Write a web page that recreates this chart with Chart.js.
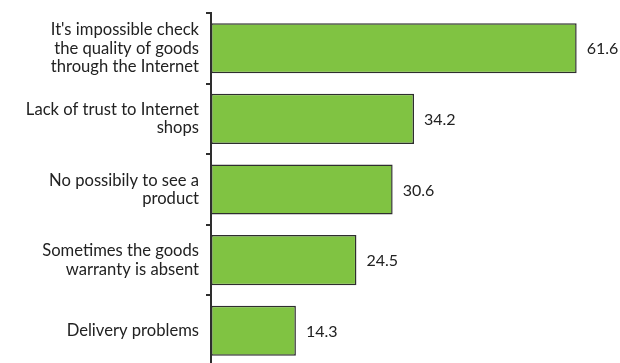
<!DOCTYPE html>
<html>
<head>
<meta charset="utf-8">
<script src="https://cdn.jsdelivr.net/npm/chart.js@4"></script>
<style>
    html, body { margin: 0; padding: 0; background: #fff; overflow: hidden; }
    canvas { display: block; }
</style>
</head>
<body>
<canvas id="reasonsChart" width="620" height="366"></canvas>
<script>
// Reasons for not buying online, share of respondents
const reasons = [
    ["It's impossible check", 'the quality of goods', 'through the Internet'],
    ['Lack of trust to Internet', 'shops'],
    ['No possibily to see a', 'product'],
    ['Sometimes the goods', 'warranty is absent'],
    ['Delivery problems']
];
const shares = [61.6, 34.2, 30.6, 24.5, 14.3];

const FONT = 'Lato, "Open Sans", sans-serif';

// Prints each bar's value just past its end
const valueLabels = {
    id: 'valueLabels',
    afterDatasetsDraw(chart) {
        const ctx = chart.ctx;
        const meta = chart.getDatasetMeta(0);
        ctx.save();
        ctx.font = '16px ' + FONT;
        ctx.fillStyle = '#222';
        ctx.textAlign = 'left';
        ctx.textBaseline = 'middle';
        meta.data.forEach((bar, i) => {
            ctx.fillText(shares[i].toFixed(1), bar.x + 10, bar.y + 1);
        });
        ctx.restore();
    }
};

const initReasonsChart = () => {
    const ctx = document.getElementById('reasonsChart').getContext('2d');
    return new Chart(ctx, {
        type: 'bar',
        data: {
            labels: reasons,
            datasets: [{
                data: shares,
                backgroundColor: '#80c342',
                borderColor: '#2e2e2e',
                borderWidth: 1.5,
                borderSkipped: false,
                categoryPercentage: 1,
                barPercentage: 0.71
            }]
        },
        options: {
            indexAxis: 'y',
            responsive: false,
            animation: false,
            layout: {
                padding: { top: 13, right: 0, bottom: 0, left: 0 }
            },
            plugins: {
                legend: { display: false },
                tooltip: { enabled: false }
            },
            scales: {
                x: {
                    display: false,
                    min: 0,
                    max: 68.9
                },
                y: {
                    afterFit: (scale) => {
                        scale.width = 211;
                        scale.paddingTop = 0;
                        scale.paddingBottom = 0;
                    },
                    border: {
                        display: true,
                        color: '#2e2e2e',
                        width: 2
                    },
                    grid: {
                        drawOnChartArea: false,
                        drawTicks: true,
                        tickLength: 5,
                        color: '#2e2e2e',
                        lineWidth: 2
                    },
                    ticks: {
                        padding: 7,
                        color: '#222',
                        font: { family: FONT, size: 16.6, lineHeight: 1.1 }
                    }
                }
            }
        },
        plugins: [valueLabels]
    });
};

document.addEventListener('DOMContentLoaded', () => {
    window.reasonsChart = initReasonsChart();
});
</script>
</body>
</html>
